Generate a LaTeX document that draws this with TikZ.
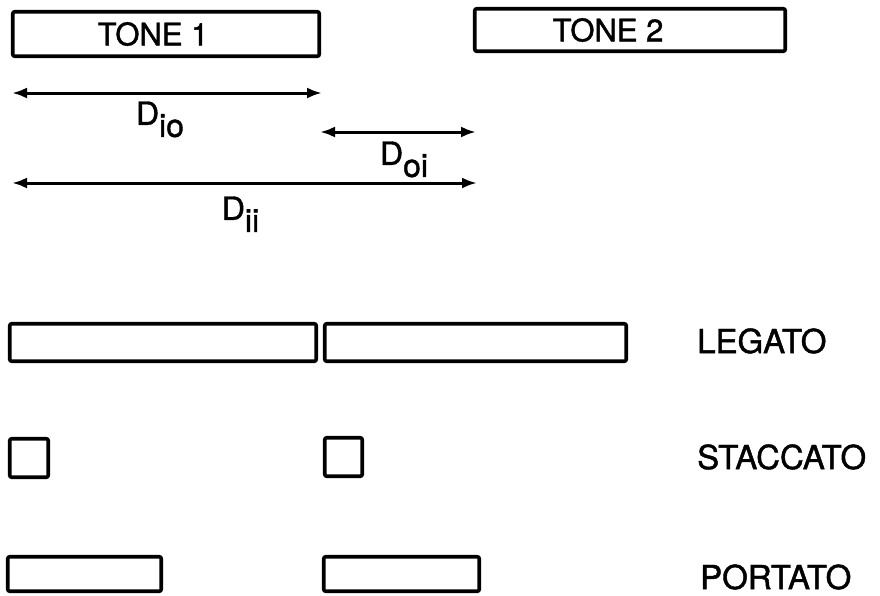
\documentclass[tikz,border=0pt]{standalone}
\usepackage{fontspec}
\setmainfont{TeX Gyre Heros}[AutoFakeBold=1.3]
\usetikzlibrary{positioning, arrows.meta}

\newcommand{\dlab}[1]{\bfseries D\raisebox{-12pt}{#1}}

\begin{document}
\begin{tikzpicture}[x=1pt, y=-1pt,
      tonebox/.style={draw, line width=3.6pt, rounded corners=2pt, inner sep=0pt},
      notebox/.style={draw, line width=3.6pt, rounded corners=2pt, inner sep=0pt},
      dur/.style={{Latex[length=15pt,width=11pt]}-{Latex[length=15pt,width=11pt]}, line width=3pt},
      durlab/.style={inner sep=0pt, font=\fontsize{32}{36}\selectfont},
      rowlab/.style={anchor=west, inner sep=0pt, font=\fontsize{33}{36}\selectfont\bfseries},
      tonelab/.style={font=\fontsize{31}{34}\selectfont\bfseries}
    ]
      \useasboundingbox (0,0) rectangle (880,595);

      % the two tones
      \node[tonebox, minimum width=306.5pt, minimum height=44.5pt,
            label={[tonelab, xshift=-13pt]center:TONE 1}] (tone1) at (166,34) {};
      \node[tonebox, minimum width=310.5pt, minimum height=42.5pt,
            label={[tonelab, xshift=-22pt]center:TONE 2}] (tone2) at (630,30) {};

      % durations
      \coordinate (io-l) at (12,93);
      \coordinate (io-r) at (322,93);
      \coordinate (oi-l) at (320,132);
      \coordinate (oi-r) at (476,132);
      \coordinate (ii-l) at (12,183);
      \coordinate (ii-r) at (477,183);

      \draw[dur] (io-l) -- (io-r) node[midway, below=7pt, durlab, xshift=-7pt] {\dlab{io}};
      \draw[dur] (oi-l) -- (oi-r) node[midway, below=8pt, durlab, xshift=6pt] {\dlab{oi}};
      \draw[dur] (ii-l) -- (ii-r) node[midway, below=12pt, durlab, xshift=-4pt] {\dlab{ii}};

      % legato
      \node[notebox, minimum width=306.5pt, minimum height=37.5pt] (leg1) at (163,342.5) {};
      \node[notebox, minimum width=301.5pt, minimum height=37.5pt] (leg2) at (475.5,342.5) {};
      \node[rowlab] (leglab) at (697,341) {LEGATO};

      % staccato
      \node[notebox, minimum width=38.5pt, minimum height=38.5pt] (stac1) at (29,458) {};
      \node[notebox, minimum width=37.5pt, minimum height=38.5pt] (stac2) at (343.5,457) {};
      \node[rowlab] (staclab) at (697,457) {STACCATO};

      % portato
      \node[notebox, minimum width=153.5pt, minimum height=34.5pt] (port1) at (84.5,574) {};
      \node[notebox, minimum width=155.5pt, minimum height=34.5pt] (port2) at (401.5,574) {};
      \node[rowlab] (portlab) at (700,577) {PORTATO};
    \end{tikzpicture}
\end{document}
